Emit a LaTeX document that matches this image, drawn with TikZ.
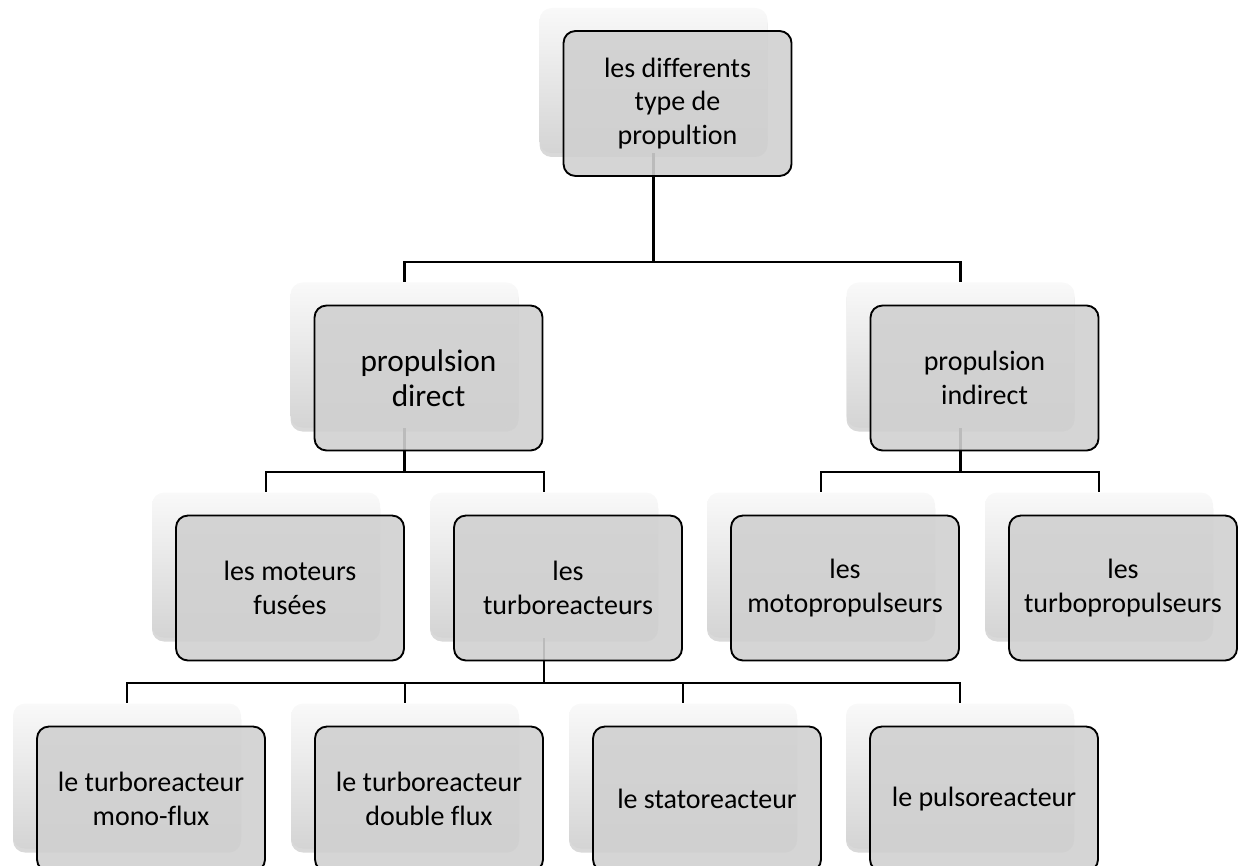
\documentclass[tikz,border=0pt]{standalone}
\usepackage{fontspec}
\setmainfont{Carlito}[Ligatures=NoCommon]
\usetikzlibrary{shadows}
\definecolor{boxgray}{RGB}{208,208,208}
\definecolor{shadetop}{RGB}{249,249,249}
\definecolor{shadebot}{RGB}{212,212,212}

\tikzset{
  backbox/.style={rounded corners=9pt, minimum width=171pt, minimum height=108.75pt,
    top color=shadetop, bottom color=shadebot, draw=none,
    drop shadow={shadow xshift=0pt, shadow yshift=-3pt, opacity=0.3}},
  frontbox/.style={draw=black, line width=1.4pt, rounded corners=9pt, fill=boxgray,
    fill opacity=0.9, text opacity=1, minimum width=171pt, minimum height=108.75pt,
    align=center, xshift=18pt, yshift=-17.25pt, font=\fontsize{21}{25}\selectfont},
  bigtext/.style={font=\fontsize{23.5}{26}\selectfont},
  link/.style={black, line width=1.6pt},
}

\begin{document}
\begin{tikzpicture}[x=0.75pt, y=-0.75pt]

    %% page frame
    \useasboundingbox (0,0) rectangle (1238,866);
    \clip (0,0) rectangle (1238,866);

    %% --- shadow boxes (behind) ---
    \node[backbox] (top-b) at (653.5,80.5) {};
    \node[backbox] (pd-b) at (404.5,355) {};
    \node[backbox] (pi-b) at (960.5,355) {};
    \node[backbox] (mf-b) at (266,565) {};
    \node[backbox] (tr-b) at (544,565) {};
    \node[backbox] (mp-b) at (821,565) {};
    \node[backbox] (tp-b) at (1099,565) {};
    \node[backbox] (mono-b) at (127,776) {};
    \node[backbox] (double-b) at (405,776) {};
    \node[backbox] (stato-b) at (683,776) {};
    \node[backbox] (pulso-b) at (960,776) {};

    %% --- junctions ---
    \coordinate (j1) at (653.5,262);
    \coordinate (j2) at (404.5,472);
    \coordinate (j3) at (960.5,472);
    \coordinate (j4) at (544,683);

    %% --- connectors ---
    \draw[link] (top-b.south) -- (j1) -| (pd-b.north);
    \draw[link] (j1) -| (pi-b.north);

    \draw[link] (pd-b.south) -- (j2) -| (mf-b.north);
    \draw[link] (j2) -| (tr-b.north);

    \draw[link] (pi-b.south) -- (j3) -| (mp-b.north);
    \draw[link] (j3) -| (tp-b.north);

    \draw[link] (tr-b.south) -- (j4) -| (mono-b.north);
    \draw[link] (j4) -| (double-b.north);
    \draw[link] (j4) -| (stato-b.north);
    \draw[link] (j4) -| (pulso-b.north);

    %% --- front boxes with text ---
    \node[frontbox] (top) at (top-b) {les differents\\type de\\propultion};

    \node[frontbox, bigtext] (pd) at (pd-b) {propulsion\\direct};
    \node[frontbox] (pi) at (pi-b) {propulsion\\indirect};

    \node[frontbox] (mf) at (mf-b) {les moteurs\\fusées};
    \node[frontbox] (tr) at (tr-b) {les\\turboreacteurs};
    \node[frontbox] (mp) at (mp-b) {les\\motopropulseurs};
    \node[frontbox] (tp) at (tp-b) {les\\turbopropulseurs};

    \node[frontbox] (mono) at (mono-b) {le turboreacteur\\mono-flux};
    \node[frontbox] (double) at (double-b) {le turboreacteur\\double flux};
    \node[frontbox] (stato) at (stato-b) {le statoreacteur};
    \node[frontbox] (pulso) at (pulso-b) {le pulsoreacteur};

\end{tikzpicture}
\end{document}
